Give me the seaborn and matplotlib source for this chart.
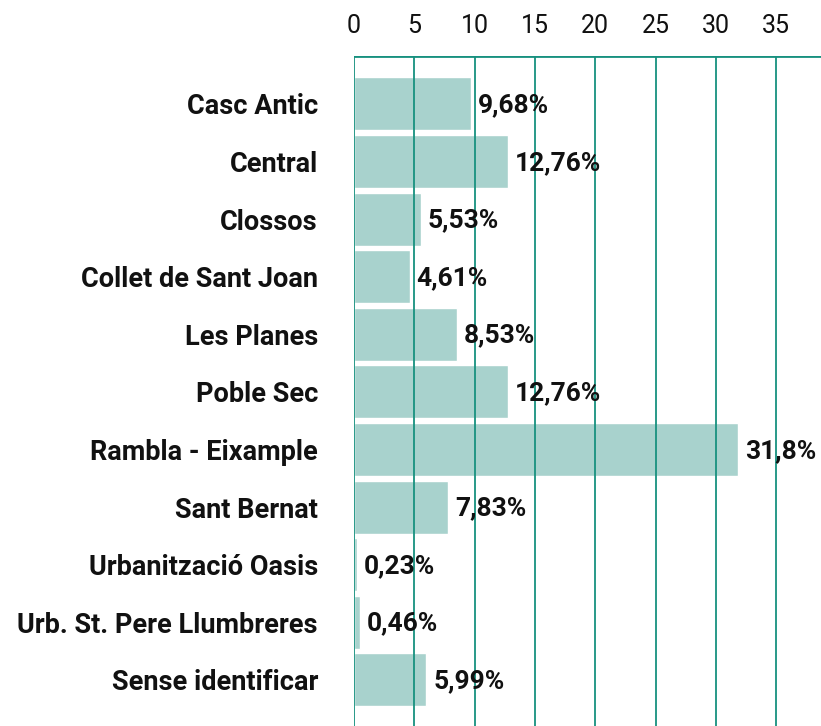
import matplotlib
matplotlib.use("Agg")
import matplotlib.pyplot as plt
import seaborn as sns
import pandas as pd

# data
barris = ["Casc Antic", "Central", "Clossos", "Collet de Sant Joan", "Les Planes",
          "Poble Sec", "Rambla - Eixample", "Sant Bernat", "Urbanització Oasis",
          "Urb. St. Pere Llumbreres", "Sense identificar"]
percentatges = [9.68, 12.76, 5.53, 4.61, 8.53, 12.76, 31.8, 7.83, 0.23, 0.46, 5.99]
etiquetes = ["9,68%", "12,76%", "5,53%", "4,61%", "8,53%", "12,76%", "31,8%",
             "7,83%", "0,23%", "0,46%", "5,99%"]
ticks = [0, 5, 10, 15, 20, 25, 30, 35]

df = pd.DataFrame({"barri": barris, "pct": percentatges})

sns.set_style("white")
plt.rcParams["font.family"] = ["Roboto", "DejaVu Sans"]

bar_col = "#a8d2cd"
grid_col = "#17917f"
txt_col = "#111111"

fig = plt.figure(figsize=(8.21, 7.26), dpi=100)
ax = fig.add_axes([354 / 821, 0, 1 - 354 / 821, (726 - 56) / 726])

sns.barplot(data=df, x="pct", y="barri", color=bar_col, saturation=1,
            width=0.92, ax=ax, zorder=1)

# vertical grid drawn on top of the bars, plus the top rule
for v in ticks:
    ax.axvline(v, color=grid_col, lw=1.3, zorder=3)
ax.axhline(-0.83, color=grid_col, lw=2, zorder=3)

for i, (v, t) in enumerate(zip(percentatges, etiquetes)):
    ax.annotate(t, (v, i), xytext=(5, -1), textcoords="offset points",
                va="center", ha="left", fontsize=19, fontweight="bold",
                color=txt_col, zorder=4, annotation_clip=False)

ax.set_xlim(0, 38.7)
ax.set_ylim(10.8, -0.83)
ax.xaxis.tick_top()
ax.set_xticks(ticks)
ax.set_xticklabels([str(t) for t in ticks], fontsize=18, color=txt_col)
ax.tick_params(axis="x", length=0, pad=13)
ax.tick_params(axis="y", length=0, pad=26)
for lab in ax.get_yticklabels():
    lab.set_fontsize(19.5)
    lab.set_fontweight("bold")
    lab.set_color(txt_col)
ax.set_xlabel("")
ax.set_ylabel("")
for s in ax.spines.values():
    s.set_visible(False)

fig.savefig("out.png", dpi=100)
